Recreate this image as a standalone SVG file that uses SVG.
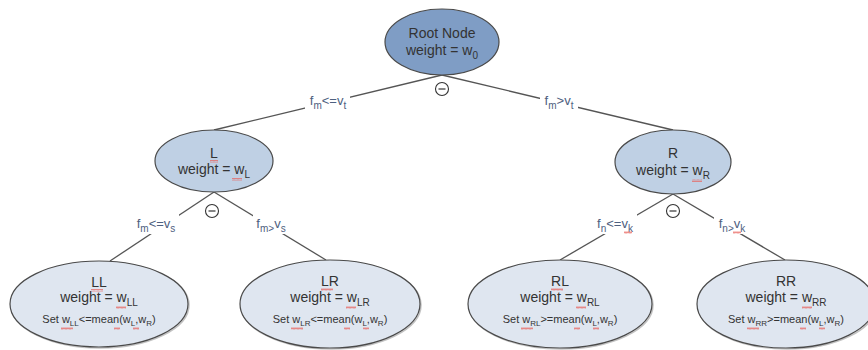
<svg xmlns="http://www.w3.org/2000/svg" width="868" height="350" viewBox="0 0 868 350">
  <defs>
    <pattern id="squiggle" width="4" height="3" patternUnits="userSpaceOnUse">
      <polyline points="0,2.5 1,0.5 2,2.5 3,0.5 4,2.5" fill="none" stroke="#e8605a" stroke-width="0.7"/>
    </pattern>
  </defs>
  <style>
    .edge { stroke: #555; stroke-width: 1.3; fill: none; }
    .lblbg { fill: #fff; }
    .lbl { font-family: "Liberation Sans", Arial, sans-serif; font-size: 13px; fill: #4e6080; text-anchor: middle; }
    .node { stroke: #4a4a4a; stroke-width: 1.2; }
    .root { fill: #7f9dc5; }
    .mid { fill: #bfd0e4; }
    .leaf { fill: #dfe6f0; }
    .shadow { fill: none; stroke: #999; stroke-width: 1.5; opacity: 0.6; }
    .t { font-family: "Liberation Sans", Arial, sans-serif; font-size: 14px; fill: #333; text-anchor: middle; }
    .small { font-size: 11px; }
    .sub { font-size: 10px; }
    .sub2 { font-size: 8px; }
    .minus circle { fill: #fff; stroke: #333; stroke-width: 1.1; }
    .minus line { stroke: #333; stroke-width: 1.2; }
    .sq { fill: url(#squiggle); }
  </style>

  <!-- connectors: parent bottom to child top, labels sit on white boxes -->
  <g id="connectors">
    <line class="edge" x1="442" y1="75" x2="214" y2="130"/>
    <line class="edge" x1="442" y1="75" x2="673" y2="130"/>
    <line class="edge" x1="214" y1="192" x2="110" y2="261"/>
    <line class="edge" x1="214" y1="192" x2="326" y2="260"/>
    <line class="edge" x1="673" y1="194" x2="560" y2="260"/>
    <line class="edge" x1="673" y1="194" x2="785" y2="260"/>

    <rect class="lblbg" x="305" y="92" width="45" height="19"/>
    <text class="lbl" x="328" y="105">f<tspan class="sub" dy="4">m</tspan><tspan dy="-4">&lt;=v</tspan><tspan class="sub" dy="4">t</tspan></text>

    <rect class="lblbg" x="540" y="92" width="38" height="19"/>
    <text class="lbl" x="559" y="105">f<tspan class="sub" dy="4">m</tspan><tspan dy="-4">&gt;v</tspan><tspan class="sub" dy="4">t</tspan></text>

    <rect class="lblbg" x="133" y="214" width="46" height="20"/>
    <text class="lbl" x="156" y="228">f<tspan class="sub" dy="4">m</tspan><tspan dy="-4">&lt;=v</tspan><tspan class="sub" dy="4">s</tspan></text>

    <rect class="lblbg" x="253" y="214" width="37" height="20"/>
    <text class="lbl" x="271" y="228">f<tspan class="sub" dy="4">m&gt;</tspan><tspan dy="-4">v</tspan><tspan class="sub" dy="4">s</tspan></text>

    <rect class="lblbg" x="594" y="214" width="43" height="20"/>
    <text class="lbl" x="615" y="228">f<tspan class="sub" dy="4">n</tspan><tspan dy="-4">&lt;=v</tspan><tspan class="sub" dy="4">k</tspan></text>
    <rect class="sq" x="624" y="231" width="8" height="3"/>

    <rect class="lblbg" x="714" y="214" width="36" height="20"/>
    <text class="lbl" x="732" y="228">f<tspan class="sub" dy="4">n&gt;</tspan><tspan dy="-4">v</tspan><tspan class="sub" dy="4">k</tspan></text>
    <rect class="sq" x="733" y="231" width="8" height="3"/>
  </g>

  <!-- split markers -->
  <g id="split-root" class="minus">
    <circle cx="442" cy="89" r="6.5"/>
    <line x1="438.5" y1="89" x2="445.5" y2="89"/>
  </g>
  <g id="split-L" class="minus">
    <circle cx="212" cy="211" r="6.5"/>
    <line x1="208.5" y1="211" x2="215.5" y2="211"/>
  </g>
  <g id="split-R" class="minus">
    <circle cx="673" cy="211" r="6.5"/>
    <line x1="669.5" y1="211" x2="676.5" y2="211"/>
  </g>

  <g id="node-root">
    <ellipse class="node root" cx="442" cy="42" rx="57" ry="33"/>
    <text class="t" x="442" y="38">Root Node</text>
    <text class="t" x="442" y="55">weight = w<tspan class="sub" dy="4">0</tspan></text>
  </g>

  <g id="node-L">
    <ellipse class="node mid" cx="214" cy="161" rx="59" ry="31"/>
    <text class="t" x="214" y="158">L</text>
    <text class="t" x="214" y="174">weight = w<tspan class="sub" dy="4">L</tspan></text>
    <rect class="sq" x="210" y="160" width="8" height="3"/>
    <rect class="sq" x="232" y="178" width="10" height="3"/>
  </g>

  <g id="node-R">
    <ellipse class="node mid" cx="673" cy="162" rx="58" ry="32"/>
    <text class="t" x="673" y="158">R</text>
    <text class="t" x="673" y="175">weight = w<tspan class="sub" dy="4">R</tspan></text>
    <rect class="sq" x="692" y="179" width="10" height="3"/>
  </g>

  <g id="node-LL">
    <ellipse class="shadow" cx="100" cy="305" rx="89" ry="43"/>
    <ellipse class="node leaf" cx="99" cy="304" rx="89" ry="43"/>
    <text class="t" x="99" y="287">LL</text>
    <text class="t" x="99" y="302">weight = w<tspan class="sub" dy="4">LL</tspan></text>
    <text class="t small" x="99" y="323">Set w<tspan class="sub2" dy="3">LL</tspan><tspan dy="-3">&lt;=mean(w</tspan><tspan class="sub2" dy="3">L</tspan><tspan dy="-3">,w</tspan><tspan class="sub2" dy="3">R</tspan><tspan dy="-3">)</tspan></text>
    <rect class="sq" x="91" y="289" width="12" height="3"/>
    <rect class="sq" x="116" y="306" width="10" height="3"/>
    <rect class="sq" x="61" y="327" width="12" height="3"/>
    <rect class="sq" x="114" y="327" width="6" height="3"/>
    <rect class="sq" x="133" y="327" width="6" height="3"/>
  </g>

  <g id="node-LR">
    <ellipse class="shadow" cx="331" cy="305" rx="90" ry="44"/>
    <ellipse class="node leaf" cx="330" cy="304" rx="90" ry="44"/>
    <text class="t" x="330" y="286">LR</text>
    <text class="t" x="330" y="302">weight = w<tspan class="sub" dy="4">LR</tspan></text>
    <text class="t small" x="330" y="323">Set w<tspan class="sub2" dy="3">LR</tspan><tspan dy="-3">&lt;=mean(w</tspan><tspan class="sub2" dy="3">L</tspan><tspan dy="-3">,w</tspan><tspan class="sub2" dy="3">R</tspan><tspan dy="-3">)</tspan></text>
    <rect class="sq" x="321" y="288" width="12" height="3"/>
    <rect class="sq" x="346" y="306" width="10" height="3"/>
    <rect class="sq" x="291" y="327" width="12" height="3"/>
    <rect class="sq" x="344" y="327" width="6" height="3"/>
    <rect class="sq" x="363" y="327" width="6" height="3"/>
  </g>

  <g id="node-RL">
    <ellipse class="shadow" cx="561" cy="305" rx="92" ry="44"/>
    <ellipse class="node leaf" cx="560" cy="304" rx="92" ry="44"/>
    <text class="t" x="560" y="286">RL</text>
    <text class="t" x="560" y="302">weight = w<tspan class="sub" dy="4">RL</tspan></text>
    <text class="t small" x="560" y="323">Set w<tspan class="sub2" dy="3">RL</tspan><tspan dy="-3">&gt;=mean(w</tspan><tspan class="sub2" dy="3">L</tspan><tspan dy="-3">,w</tspan><tspan class="sub2" dy="3">R</tspan><tspan dy="-3">)</tspan></text>
    <rect class="sq" x="551" y="288" width="12" height="3"/>
    <rect class="sq" x="576" y="306" width="10" height="3"/>
    <rect class="sq" x="521" y="327" width="12" height="3"/>
    <rect class="sq" x="574" y="327" width="6" height="3"/>
    <rect class="sq" x="593" y="327" width="6" height="3"/>
  </g>

  <g id="node-RR">
    <ellipse class="shadow" cx="787" cy="305" rx="89" ry="44"/>
    <ellipse class="node leaf" cx="786" cy="304" rx="89" ry="44"/>
    <text class="t" x="786" y="286">RR</text>
    <text class="t" x="786" y="302">weight = w<tspan class="sub" dy="4">RR</tspan></text>
    <text class="t small" x="786" y="323">Set w<tspan class="sub2" dy="3">RR</tspan><tspan dy="-3">&gt;=mean(w</tspan><tspan class="sub2" dy="3">L</tspan><tspan dy="-3">,w</tspan><tspan class="sub2" dy="3">R</tspan><tspan dy="-3">)</tspan></text>
    <rect class="sq" x="802" y="306" width="10" height="3"/>
    <rect class="sq" x="747" y="327" width="12" height="3"/>
    <rect class="sq" x="800" y="327" width="6" height="3"/>
    <rect class="sq" x="819" y="327" width="6" height="3"/>
  </g>
</svg>
